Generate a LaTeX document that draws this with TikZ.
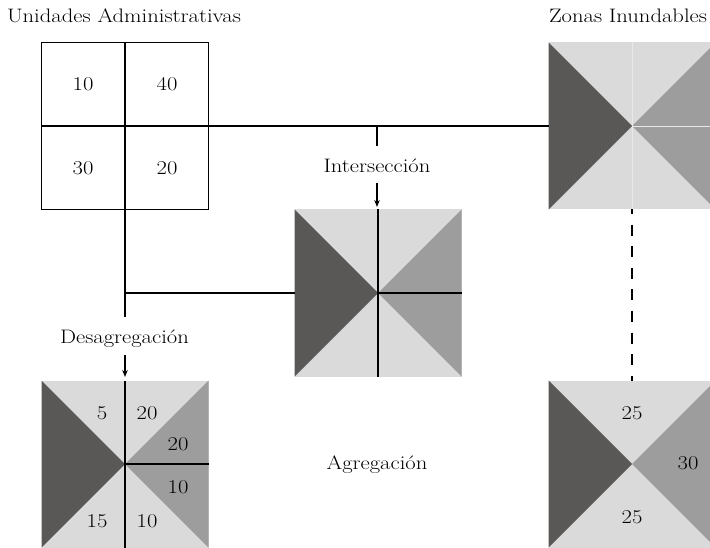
\documentclass[tikz,border=0pt]{standalone}
\usepackage{fontspec}
\setmainfont{Latin Modern Roman}[FakeStretch=1.16]
\usetikzlibrary{arrows.meta}
\definecolor{dk}{RGB}{90,88,86}
\definecolor{md}{RGB}{157,157,157}
\definecolor{lt}{RGB}{218,218,218}
\definecolor{faint}{RGB}{232,232,232}
\newcommand\fillsq[1]{%
  \fill[lt] (#1.north west) rectangle (#1.south east);
  \fill[dk] (#1.north west) -- (#1.center) -- (#1.south west) -- cycle;
  \fill[md] (#1.north east) -- (#1.center) -- (#1.south east) -- cycle;}
\begin{document}
\begin{tikzpicture}[x=1pt,y=-1pt,
  sq/.style={minimum size=167pt,inner sep=0pt,outer sep=0pt},
  lbl/.style={font=\fontsize{19.5}{22}\selectfont,inner sep=0pt,outer sep=0pt},
  num/.style={font=\fontsize{19.5}{22}\selectfont,inner sep=0pt},
  ln/.style={line width=1.9pt},
  arr/.style={line width=1.4pt,-{Stealth[length=7pt,width=5.5pt]}},
  dsh/.style={line width=2pt,dash pattern=on 11pt off 10.5pt,dash phase=6pt},
  fl/.style={faint,line width=0.8pt}]
\clip (0,0) rectangle (710,548);
% squares
\node[sq] (ua) at (125,126) {};
\node[sq] (in) at (378,293) {};
\node[sq] (zi) at (632,126) {};
\node[sq] (ds) at (125,464) {};
\node[sq] (ag) at (632,464) {};
% fills
\fillsq{in}
\fillsq{zi}
\fillsq{ds}
\fillsq{ag}
% top-left grid
\draw[ln] (ua.north west) rectangle (ua.south east);
\draw[ln] (ua.north) -- (ua.south);
\draw[ln] (ua.west) -- (ua.east);
% internal lines
\draw[ln] (in.north) -- (in.south);
\draw[ln] (in.center) -- (in.east);
\draw[ln] (ds.north) -- (ds.south);
\draw[ln] (ds.center) -- (ds.east);
\draw[fl] (zi.north) -- (zi.south);
\draw[fl] (zi.center) -- (zi.east);
% titles
\node[lbl,anchor=base west] (t1) at (7,23) {Unidades Administrativas};
\node[lbl,anchor=base west] (t2) at (549,23) {Zonas Inundables};
\node[lbl,anchor=base] (intxt) at (377,173) {Intersección};
\node[lbl,anchor=base] (destxt) at (124.5,343) {Desagregación};
\node[lbl,anchor=base] (agtxt) at (377,469) {Agregación};
% grid numbers
\node[num] (n1) at (83,84) {10};
\node[num] (n2) at (167,84) {40};
\node[num] (n3) at (83,168) {30};
\node[num] (n4) at (167,168) {20};
% desagregacion numbers
\node[num] (d1) at (102,413) {5};
\node[num] (d2) at (147,413) {20};
\node[num] (d3) at (178,444) {20};
\node[num] (d4) at (178,487) {10};
\node[num] (d5) at (97,521) {15};
\node[num] (d6) at (147,521) {10};
% agregacion numbers
\node[num] (a1) at (632,413) {25};
\node[num] (a2) at (688,463) {30};
\node[num] (a3) at (632,517) {25};
% connectors
\draw[ln] (ua.east) -- (zi.west);
\coordinate (j1) at (377,126);
\draw[ln,shorten >=13pt] (j1) -- (j1 |- intxt.north);
\draw[arr,shorten <=10pt,shorten >=2.5pt] (intxt.south) -- (intxt.south |- in.north);
\draw[ln,shorten >=12pt] (ua.south) -- (ua.south |- destxt.north);
\draw[ln] (ua.south |- in.west) -- (in.west);
\draw[arr,shorten <=8pt,shorten >=3.5pt] (destxt.south -| ds.north) -- (ds.north);
\draw[dsh] (zi.south) -- (ag.north);
\end{tikzpicture}
\end{document}
